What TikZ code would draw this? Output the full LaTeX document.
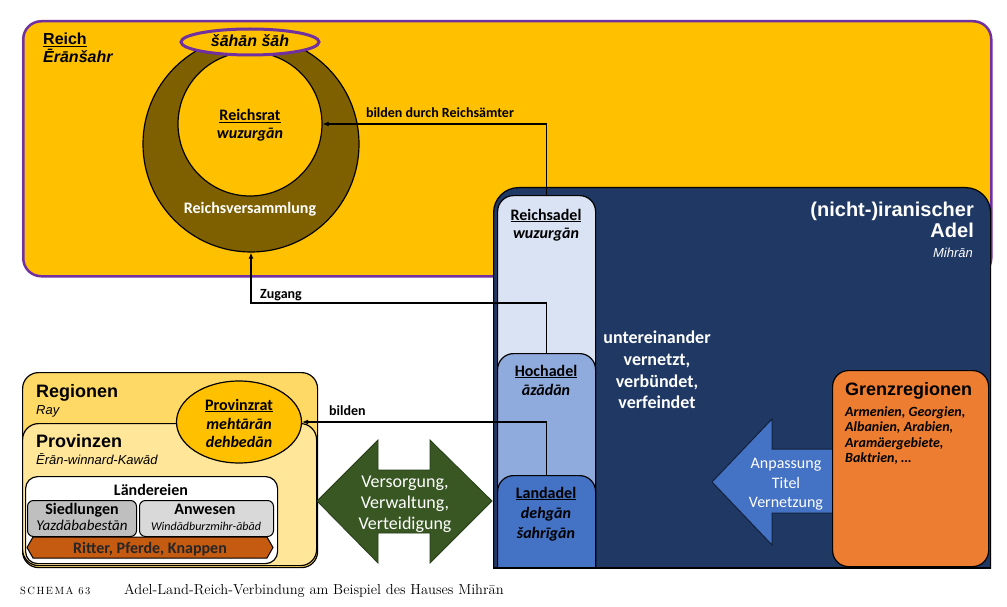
\documentclass[tikz,border=0pt]{standalone}
\usepackage{fontspec}
\usetikzlibrary{arrows.meta,shapes.geometric}
\newfontfamily\calfont{Carlito}
\newfontfamily\arifont{Liberation Sans}
\newfontfamily\capfont[LetterSpace=14]{Latin Modern Roman}
\definecolor{reichgold}{HTML}{FFC000}
\definecolor{purp}{HTML}{7030A0}
\definecolor{rbrown}{HTML}{7F6000}
\definecolor{navy}{HTML}{1F3864}
\definecolor{rsadel}{HTML}{DAE3F3}
\definecolor{hoch}{HTML}{8FAADC}
\definecolor{land}{HTML}{4472C4}
\definecolor{grenz}{HTML}{ED7D31}
\definecolor{regfill}{HTML}{FFD966}
\definecolor{provfill}{HTML}{FFE699}
\definecolor{gruen}{HTML}{385723}
\definecolor{ritter}{HTML}{C55A11}
\definecolor{grau}{HTML}{BFBFBF}
\definecolor{hellgrau}{HTML}{D9D9D9}
\tikzset{
  box/.style={draw=black, line width=1.2pt, inner sep=0pt, anchor=north west},
  t/.style={inner sep=0pt, anchor=base},
  tl/.style={inner sep=0pt, anchor=base west},
  tr/.style={inner sep=0pt, anchor=base east},
  arr/.style={line width=1.5pt, -{Latex[length=6pt,width=5pt]}},
  ab/.style={font={\arifont\bfseries\fontsize{#1}{#1}\selectfont}},
  abi/.style={font={\arifont\bfseries\itshape\fontsize{#1}{#1}\selectfont}},
  ai/.style={font={\arifont\itshape\fontsize{#1}{#1}\selectfont}},
  cb/.style={font={\calfont\bfseries\fontsize{#1}{#1}\selectfont}},
  cbi/.style={font={\calfont\bfseries\itshape\fontsize{#1}{#1}\selectfont}},
  ci/.style={font={\calfont\itshape\fontsize{#1}{#1}\selectfont}},
  cr/.style={font={\calfont\fontsize{#1}{#1}\selectfont}},
}
\begin{document}
\begin{tikzpicture}[x=1pt,y=-1pt]
\useasboundingbox (0,0) rectangle (1007,607);
\fill[white] (0,0) rectangle (1007,607);

% ---------------- Reich ----------------
\node[box, fill=reichgold, draw=purp, line width=2.5pt, rounded corners=18pt,
  minimum width=968pt, minimum height=255pt] (reich) at (22,20) {};
\node[circle, draw=black, line width=1.2pt, fill=rbrown, minimum size=216pt, inner sep=0pt] (rv) at (251,144) {};
\node[circle, draw=black, line width=1.2pt, fill=reichgold, minimum size=144pt, inner sep=0pt] (rr) at (250,124) {};
\node[ellipse, draw=purp, line width=3pt, fill=reichgold, minimum width=138pt, minimum height=26pt, inner sep=0pt] (shah) at (250,42) {};

\node[tl, ab=16] (reichT) at (43,45) {\underline{Reich}};
\node[tl, abi=16] (eranT) at (43,63) {Ērānšahr};
\node[t, abi=16] (shahT) at (250,47) {šāhān šāh};
\node[t, cb=16] (rrT) at (250,121) {\underline{Reichsrat}};
\node[t, cbi=16] (rrT2) at (250,139) {wuzurgān};
\node[t, cb=16, text=white] (rvT) at (250,213) {Reichsversammlung};

% ---------------- Adel ----------------
\begin{scope}
\clip (0,0) rectangle (1007,568);
\node[box, fill=navy, rounded corners=25pt, minimum width=497pt, minimum height=420pt] (adel) at (493,187) {};
\node[box, fill=rsadel, rounded corners=16pt, minimum width=98pt, minimum height=400pt] (reichsadel) at (497,195) {};
\node[box, fill=hoch, rounded corners=16pt, minimum width=98pt, minimum height=250pt] (hochadel) at (497,353) {};
\node[box, fill=land, rounded corners=16pt, minimum width=98pt, minimum height=130pt] (landadel) at (497,475) {};
\end{scope}
\draw[line width=1.2pt] (493,568) -- (990,568);

\node[tr, ab=20, text=white] (nichtT) at (974,216) {(nicht-)iranischer};
\node[tr, ab=20, text=white] (adelT) at (974,237) {Adel};
\node[tr, ai=13, text=white] (mihranT) at (973,257) {Mihrān};

\node[t, cb=16] (raT) at (546,220) {\underline{Reichsadel}};
\node[t, cbi=16] (raT2) at (546,238) {wuzurgān};
\node[t, cb=16] (haT) at (546,376) {\underline{Hochadel}};
\node[t, cbi=16] (haT2) at (546,395) {āzādān};
\node[t, cb=16] (laT) at (546,498) {\underline{Landadel}};
\node[t, cbi=16] (laT2) at (546,518) {dehgān};
\node[t, cbi=16] (laT3) at (546,538) {šahrīgān};

\node[t, cb=18, text=white] (u1) at (657,343) {untereinander};
\node[t, cb=18, text=white] (u2) at (657,365) {vernetzt,};
\node[t, cb=18, text=white] (u3) at (657,387) {verbündet,};
\node[t, cb=18, text=white] (u4) at (657,408) {verfeindet};

% blue arrow and Grenzregionen
\filldraw[fill=land, draw=navy!60!black, line width=1pt]
  (712,482) -- (772,419) -- (772,449) -- (840,449) -- (840,513) -- (772,513) -- (772,545) -- cycle;
\node[t, cr=16, text=white] (anp1) at (786,468) {Anpassung};
\node[t, cr=16, text=white] (anp2) at (786,488) {Titel};
\node[t, cr=16, text=white] (anp3) at (786,507) {Vernetzung};

\node[box, fill=grenz, rounded corners=16pt, minimum width=156pt, minimum height=196pt] (grenz) at (832,370) {};
\node[tl, ab=18] (grT) at (845,395) {Grenzregionen};
\node[tl, cbi=14] (g1) at (845,416) {Armenien, Georgien,};
\node[tl, cbi=14] (g2) at (845,431.5) {Albanien, Arabien,};
\node[tl, cbi=14] (g3) at (845,447) {Aramäergebiete,};
\node[tl, cbi=14] (g4) at (845,462.5) {Baktrien, …};

% ---------------- Regionen ----------------
\node[box, fill=regfill, rounded corners=16pt, minimum width=295pt, minimum height=195pt] (regionen) at (22,372) {};
\node[box, fill=provfill, rounded corners=16pt, minimum width=294pt, minimum height=142pt] (provinzen) at (22,423) {};
\node[ellipse, draw=black, line width=1.2pt, fill=reichgold, minimum width=125pt, minimum height=82pt, inner sep=0pt] (provinzrat) at (239,422) {};
\node[tl, ab=18] (regT) at (36,397) {Regionen};
\node[tl, ai=13] (rayT) at (36,414) {Ray};
\node[tl, ab=18] (provT) at (36,447) {Provinzen};
\node[tl, ai=13] (ewkT) at (36,464) {Ērān-winnard-Kawād};
\node[t, cb=16] (prT) at (239,410) {\underline{Provinzrat}};
\node[t, cbi=16] (prT2) at (239,429) {mehtārān};
\node[t, cbi=16] (prT3) at (239,447) {dehbedān};

\node[box, fill=white, rounded corners=12pt, minimum width=252pt, minimum height=87pt] (laender) at (25,476) {};
\node[t, cb=16] (laeT) at (151,495) {Ländereien};
\node[box, fill=grau, line width=1pt, rounded corners=6pt, minimum width=109pt, minimum height=36pt] (siedl) at (27,500) {};
\node[box, fill=hellgrau, line width=1pt, rounded corners=6pt, minimum width=134pt, minimum height=36pt] (anwesen) at (139,500) {};
\node[t, cb=16] (siT) at (82,514) {Siedlungen};
\node[t, ci=15] (siT2) at (82,530) {Yazdābabestān};
\node[t, cb=16] (anT) at (205,514) {Anwesen};
\node[t, ci=12] (anT2) at (206,530) {Windādburzmihr-ābād};
\filldraw[fill=ritter, draw=black, line width=1pt]
  (27,547.5) -- (33,537) -- (267,537) -- (273,547.5) -- (267,558) -- (33,558) -- cycle;
\node[t, cb=16, text=black!85] (ritT) at (150,553) {Ritter, Pferde, Knappen};

% green double arrow
\filldraw[fill=gruen, draw=gruen!70!black, line width=0.8pt]
  (317,501) -- (378,440) -- (378,470) -- (430,470) -- (430,440) -- (492,501)
  -- (430,563) -- (430,533) -- (378,533) -- (378,563) -- cycle;
\node[t, cr=18, text=white] (v1) at (405,487) {Versorgung,};
\node[t, cr=18, text=white] (v2) at (405,508) {Verwaltung,};
\node[t, cr=18, text=white] (v3) at (405,529) {Verteidigung};

% ---------------- connectors ----------------
\draw[arr] (reichsadel.north) |- (rr.east);
\node[t, cb=14] (bdrT) at (440,118) {bilden durch Reichsämter};
\draw[arr] (hochadel.north) -- ++(0,-50) -| (rv.south);
\node[tl, cb=14] (zugT) at (260,298) {Zugang};
\draw[arr] (landadel.north) |- (provinzrat.east);
\node[tl, cb=14] (bildT) at (329,415) {bilden};

% caption
\node[tl, font={\capfont\fontsize{10.5}{10.5}\selectfont}] (capA) at (20,594) {SCHEMA 63};
\node[tl, font={\fontsize{14.5}{14.5}\selectfont}] (capB) at (124,594) {Adel-Land-Reich-Verbindung am Beispiel des Hauses Mihrān};
\end{tikzpicture}
\end{document}
